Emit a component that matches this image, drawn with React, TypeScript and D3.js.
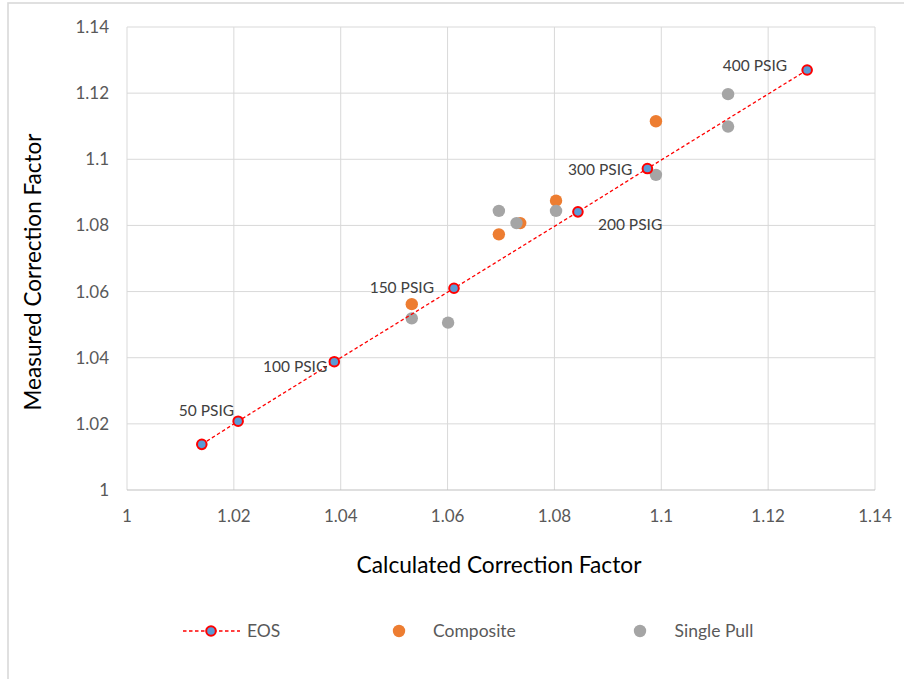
import React from "react";
import * as d3 from "d3";

const eosX = [1.014, 1.0208, 1.0388, 1.0612, 1.0844, 1.0974, 1.1273];
const eosY = [1.0138, 1.0208, 1.0388, 1.061, 1.0841, 1.0972, 1.127];
const eosLabels = ["", "50 PSIG", "100 PSIG", "150 PSIG", "200 PSIG", "300 PSIG", "400 PSIG"];

const compX = [1.0533, 1.0696, 1.0736, 1.0803, 1.099];
const compY = [1.0562, 1.0773, 1.0807, 1.0875, 1.1115];

const singleX = [1.0533, 1.0601, 1.0696, 1.0729, 1.0803, 1.099, 1.1125, 1.1125];
const singleY = [1.0519, 1.0506, 1.0844, 1.0807, 1.0844, 1.0953, 1.1197, 1.1099];

const xTicks = [1, 1.02, 1.04, 1.06, 1.08, 1.1, 1.12, 1.14];
const yTicks = [1, 1.02, 1.04, 1.06, 1.08, 1.1, 1.12, 1.14];

const seriesNames = ["EOS", "Composite", "Single Pull"];

// label placement (anchor, dx, dy) per EOS point
const labelPlacement: [string, number, number][] = [
  ["end", 0, 0],
  ["end", -4, -5],
  ["end", -7, 10],
  ["end", -20, 5],
  ["start", 20, 18],
  ["end", -15, 6],
  ["end", -20, 1],
];

const FONT = "Lato, 'Open Sans', sans-serif";
const ORANGE = "#ED7D31";
const GRAY = "#A5A5A5";
const BLUE = "#5B9BD5";
const RED = "#FF0000";

export default function App() {
  const W = 904;
  const H = 679;
  const x = d3.scaleLinear().domain([1, 1.14]).range([127, 875]);
  const y = d3.scaleLinear().domain([1, 1.14]).range([490, 27]);

  const eosPts = eosX.map((v, i) => [x(v), y(eosY[i])] as [number, number]);
  const line = d3.line()(eosPts) || "";

  const fmt = (v: number) => d3.format("")(+v.toFixed(2));

  return (
    <svg
      width={W}
      height={H}
      style={{ position: "absolute", left: 0, top: 0, background: "#fff" }}
      fontFamily={FONT}
    >
      <rect x={0} y={0} width={W} height={H} fill="#fff" />
      <rect x={8} y={3} width={1000} height={1000} fill="#fff" stroke="#D9D9D9" strokeWidth={1.6} />

      {/* gridlines */}
      {xTicks.map((t) => (
        <line key={"gx" + t} x1={x(t)} x2={x(t)} y1={y(1.14)} y2={y(1)} stroke="#D9D9D9" strokeWidth={1} />
      ))}
      {yTicks.map((t) => (
        <line
          key={"gy" + t}
          x1={x(1)}
          x2={x(1.14)}
          y1={y(t)}
          y2={y(t)}
          stroke={t === 1 ? "#BFBFBF" : "#D9D9D9"}
          strokeWidth={1}
        />
      ))}

      {/* tick labels */}
      {xTicks.map((t) => (
        <text key={"tx" + t} x={x(t)} y={y(1) + 31.7} textAnchor="middle" fontSize={17} fill="#595959">
          {fmt(t)}
        </text>
      ))}
      {yTicks.map((t) => (
        <text key={"ty" + t} x={109} y={y(t) + 6} textAnchor="end" fontSize={17} fill="#595959">
          {fmt(t)}
        </text>
      ))}

      {/* axis titles */}
      <text x={499} y={573} textAnchor="middle" fontSize={22.7} fill="#000">
        Calculated Correction Factor
      </text>
      <text transform="translate(41,272) rotate(-90)" textAnchor="middle" fontSize={22.5} fill="#000">
        Measured Correction Factor
      </text>

      {/* Composite */}
      {compX.map((v, i) => (
        <circle key={"c" + i} cx={x(v)} cy={y(compY[i])} r={6.2} fill={ORANGE} />
      ))}
      {/* Single Pull */}
      {singleX.map((v, i) => (
        <circle key={"s" + i} cx={x(v)} cy={y(singleY[i])} r={6.2} fill={GRAY} />
      ))}
      {/* EOS */}
      <path d={line} fill="none" stroke={RED} strokeWidth={1.3} strokeDasharray="3.5,2.5" />
      {eosPts.map((p, i) => (
        <circle key={"e" + i} cx={p[0]} cy={p[1]} r={4.8} fill={BLUE} stroke={RED} strokeWidth={2} />
      ))}
      {eosPts.map((p, i) =>
        eosLabels[i] ? (
          <text
            key={"l" + i}
            x={p[0] + labelPlacement[i][1]}
            y={p[1] + labelPlacement[i][2]}
            textAnchor={labelPlacement[i][0] as any}
            fontSize={15.5}
            fill="#404040"
          >
            {eosLabels[i]}
          </text>
        ) : null
      )}

      {/* legend */}
      <g>
        <line x1={183} x2={240} y1={631} y2={631} stroke={RED} strokeWidth={1.3} strokeDasharray="3.5,2.5" />
        <circle cx={211} cy={631} r={4.8} fill={BLUE} stroke={RED} strokeWidth={2} />
        <text x={247} y={637} fontSize={17.5} fill="#595959">
          {seriesNames[0]}
        </text>
        <circle cx={399} cy={631} r={6.2} fill={ORANGE} />
        <text x={433} y={637} fontSize={17.5} fill="#595959">
          {seriesNames[1]}
        </text>
        <circle cx={640} cy={631} r={6.2} fill={GRAY} />
        <text x={674.6} y={637} fontSize={17.5} fill="#595959">
          {seriesNames[2]}
        </text>
      </g>
    </svg>
  );
}
